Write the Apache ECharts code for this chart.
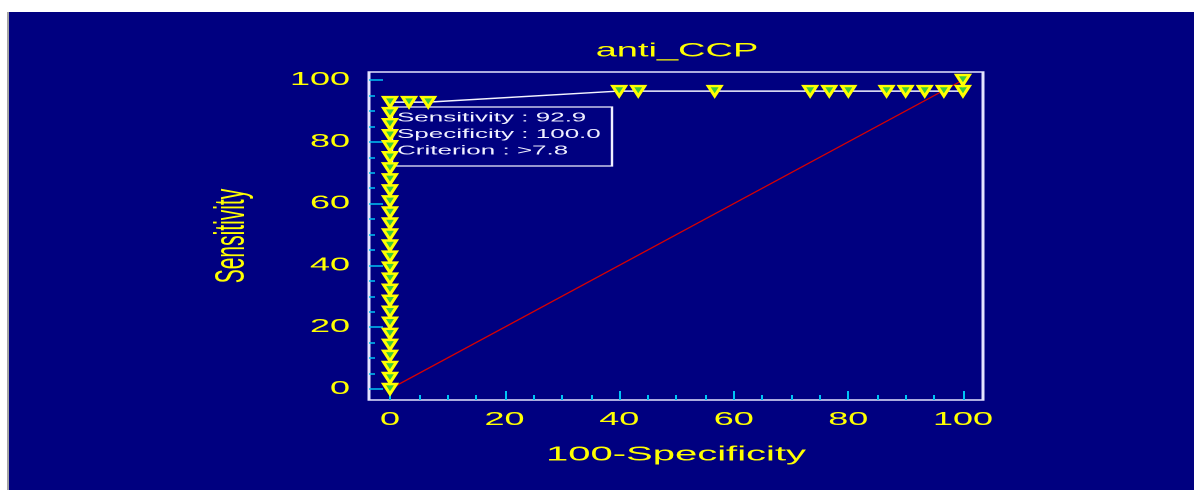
<!DOCTYPE html>
<html>
<head>
<meta charset="utf-8">
<title>anti_CCP ROC curve</title>
<script src="https://cdn.jsdelivr.net/npm/echarts@6/dist/echarts.min.js"></script>
<style>
  html, body { margin: 0; padding: 0; background: #ffffff; width: 1194px; height: 490px; overflow: hidden; }
  #panel {
    position: absolute; left: 7px; top: 12px; width: 1187px; height: 478px;
    background: #000080; border-left: 2px solid #a4a4a4; box-sizing: border-box;
  }
  /* the plot is drawn at half width and stretched 2x horizontally */
  #chart {
    position: absolute; left: 9px; top: 12px; width: 593px; height: 478px;
    transform: scaleX(2); transform-origin: 0 0;
  }
</style>
</head>
<body>
<div id="panel"></div>
<div id="chart"></div>
<script>
// ROC points: 100-Specificity (x) and Sensitivity (y), one per criterion value
const falsePositiveRate = [
  0, 0, 0, 0, 0, 0, 0, 0, 0, 0, 0, 0, 0, 0, 0, 0, 0, 0, 0, 0, 0, 0, 0, 0, 0, 0, 0,
  3.33, 6.67,
  40, 43.33, 56.67, 73.33, 76.67, 80, 86.67, 90, 93.33, 96.67, 100,
  100
];
const sensitivity = [
  0, 3.57, 7.14, 10.71, 14.29, 17.86, 21.43, 25.0, 28.57, 32.14, 35.71, 39.29, 42.86,
  46.43, 50.0, 53.57, 57.14, 60.71, 64.29, 67.86, 71.43, 75.0, 78.57, 82.14, 85.71,
  89.29, 92.86,
  92.86, 92.86,
  96.43, 96.43, 96.43, 96.43, 96.43, 96.43, 96.43, 96.43, 96.43, 96.43, 96.43,
  100
];
// chance line
const diagonalX = [0, 100];
const diagonalY = [0, 100];

const majorTicks = [0, 20, 40, 60, 80, 100];
const minorTicks = [5, 10, 15, 25, 30, 35, 45, 50, 55, 65, 70, 75, 85, 90, 95];

const chartTitle = 'anti_CCP';
const xName = '100-Specificity';
const yName = 'Sensitivity';
const boxLines = ['Sensitivity : 92.9', 'Specificity : 100.0', 'Criterion : >7.8'];

const FONT = "'Liberation Sans', Arial, sans-serif";
const YELLOW = '#ffff00';
const CYAN = '#00c4f4';
const FRAME = '#e4e4ff';

const rocData = falsePositiveRate.map((x, i) => [x, sensitivity[i]]);
const diagData = diagonalX.map((x, i) => [x, diagonalY[i]]);

const chart = echarts.init(document.getElementById('chart'), null, { devicePixelRatio: 2 });

const xBase = { type: 'value', min: -3.66, max: 103.5, gridIndex: 0, position: 'bottom' };
const yBase = { type: 'value', min: -3.56, max: 102.6, gridIndex: 0, position: 'left' };
const hiddenLine = { show: false, onZero: false };

chart.setOption({
  backgroundColor: 'transparent',
  animation: false,
  title: {
    text: chartTitle,
    left: 329,
    textAlign: 'center',
    top: 25,
    textStyle: { color: YELLOW, fontFamily: FONT, fontSize: 19, fontWeight: 'normal' }
  },
  grid: {
    left: 180, right: 106, top: 60, bottom: 90,
    show: true, borderColor: FRAME, borderWidth: 1.5, backgroundColor: 'transparent'
  },
  xAxis: [
    Object.assign({}, xBase, {
      name: xName,
      nameLocation: 'middle',
      nameGap: 45,
      nameTextStyle: { color: YELLOW, fontFamily: FONT, fontSize: 20 },
      axisLine: hiddenLine,
      axisTick: { show: true, inside: true, length: 9, customValues: majorTicks, lineStyle: { color: CYAN, width: 1 } },
      axisLabel: { show: true, customValues: majorTicks, color: YELLOW, fontFamily: FONT, fontSize: 18, margin: 11 },
      splitLine: { show: false }
    }),
    Object.assign({}, xBase, {
      axisLine: hiddenLine,
      axisTick: { show: true, inside: true, length: 5, customValues: minorTicks, lineStyle: { color: CYAN, width: 1 } },
      axisLabel: { show: false },
      splitLine: { show: false }
    })
  ],
  yAxis: [
    Object.assign({}, yBase, {
      name: yName,
      nameLocation: 'middle',
      nameGap: 58,
      nameTextStyle: { color: YELLOW, fontFamily: FONT, fontSize: 21 },
      axisLine: hiddenLine,
      axisTick: { show: true, inside: true, length: 7, customValues: majorTicks, lineStyle: { color: CYAN, width: 1.5 } },
      axisLabel: { show: true, customValues: majorTicks, color: YELLOW, fontFamily: FONT, fontSize: 18, margin: 9.5 },
      splitLine: { show: false }
    }),
    Object.assign({}, yBase, {
      axisLine: hiddenLine,
      axisTick: { show: true, inside: true, length: 3, customValues: minorTicks, lineStyle: { color: CYAN, width: 1.5 } },
      axisLabel: { show: false },
      splitLine: { show: false }
    })
  ],
  series: [
    {
      type: 'line',
      data: diagData,
      xAxisIndex: 0, yAxisIndex: 0,
      showSymbol: false,
      lineStyle: { color: '#d80000', width: 1 },
      z: 2
    },
    {
      type: 'line',
      data: rocData,
      xAxisIndex: 0, yAxisIndex: 0,
      showSymbol: true,
      symbol: 'triangle',
      symbolRotate: 180,
      symbolSize: [6.5, 10],
      itemStyle: { color: '#3cc83c', borderColor: YELLOW, borderWidth: 2 },
      lineStyle: { color: '#f4f4ff', width: 1.5 },
      z: 3
    }
  ],
  graphic: [
    {
      type: 'group',
      z: 100,
      children: [
        {
          type: 'rect',
          shape: { x: 191.5, y: 95, width: 110, height: 59 },
          style: { fill: '#000080', stroke: '#f0f0ff', lineWidth: 1.2 }
        }
      ].concat(boxLines.map((t, i) => ({
        type: 'text',
        x: 194,
        y: 106 + i * 16.4,
        style: {
          text: t,
          fill: '#f0f0ff',
          font: '13px ' + FONT,
          textVerticalAlign: 'middle'
        }
      })))
    }
  ]
});
</script>
</body>
</html>
